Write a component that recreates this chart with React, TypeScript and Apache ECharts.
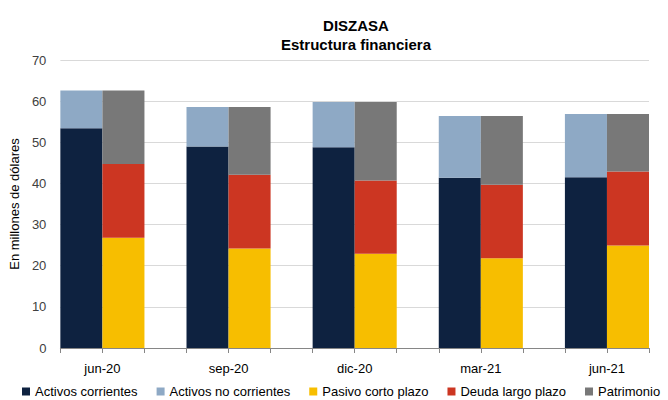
import React, { useEffect, useRef } from "react";
import * as echarts from "echarts";

const categories = ["jun-20", "sep-20", "dic-20", "mar-21", "jun-21"];
const activosCorrientes = [53.4, 49.0, 48.8, 41.4, 41.5];
const activosNoCorrientes = [9.2, 9.6, 11.0, 15.0, 15.4];
const pasivoCortoPlazo = [26.8, 24.2, 22.9, 21.8, 24.9];
const deudaLargoPlazo = [17.9, 17.9, 17.8, 17.9, 18.0];
const patrimonio = [17.9, 16.5, 19.1, 16.7, 14.0];
const yMin = 0;
const yMax = 70;
const yInterval = 10;

const FONT = "'Liberation Sans', Arial, sans-serif";

const slotCount = categories.length * 3 - 1;
const place = (values: number[], offset: number) => {
  const arr: (number | string)[] = Array(slotCount).fill("-");
  values.forEach((v, i) => {
    arr[3 * i + offset] = v;
  });
  return arr;
};
const boundaryLabels = (() => {
  const arr: string[] = Array(slotCount + 1).fill("");
  categories.forEach((c, i) => {
    arr[3 * i + 1] = c;
  });
  return arr;
})();

export default function App() {
  const ref = useRef<HTMLDivElement>(null);
  useEffect(() => {
    if (!ref.current) return;
    const chart = echarts.init(ref.current, undefined, { renderer: "svg" });
    const mk = (name: string, data: number[], offset: number, color: string) => ({
      name,
      type: "bar",
      stack: "total",
      barWidth: "100%",
      barGap: "0%",
      data: place(data, offset),
      itemStyle: { color },
      emphasis: { disabled: true },
    });
    chart.setOption({
      animation: false,
      backgroundColor: "#ffffff",
      textStyle: { fontFamily: FONT },
      title: {
        text: "DISZASA\nEstructura financiera",
        left: 351,
        top: 11,
        textAlign: "center",
        textStyle: {
          fontFamily: FONT,
          fontSize: 15,
          fontWeight: "bold",
          color: "#000",
          lineHeight: 19,
        },
      },
      legend: {
        top: 385,
        left: 22,
        width: 646,
        padding: 0,
        itemWidth: 8,
        itemHeight: 8,
        itemGap: 19,
        icon: "rect",
        textStyle: { fontFamily: FONT, fontSize: 13, color: "#000" },
        data: [
          "Activos corrientes",
          "Activos no corrientes",
          "Pasivo corto plazo",
          "Deuda largo plazo",
          "Patrimonio",
        ],
      },
      grid: { left: 58, right: 19, top: 60, bottom: 52 },
      xAxis: [
        {
          type: "category",
          data: Array(slotCount).fill(""),
          show: false,
          boundaryGap: true,
        },
        {
          type: "category",
          position: "bottom",
          boundaryGap: false,
          data: boundaryLabels,
          axisLine: { lineStyle: { color: "#868686" } },
          axisTick: { alignWithLabel: true, interval: 0, length: 5, lineStyle: { color: "#868686" } },
          axisLabel: { interval: 0, color: "#000", fontSize: 13, margin: 14, fontFamily: FONT },
          splitLine: { show: false },
        },
      ],
      yAxis: {
        type: "value",
        min: yMin,
        max: yMax,
        interval: yInterval,
        name: "En millones de dólares",
        nameLocation: "middle",
        nameGap: 32,
        nameRotate: 90,
        nameTextStyle: { fontFamily: FONT, fontSize: 13, color: "#000" },
        axisLine: { show: false },
        axisTick: { show: false },
        axisLabel: { color: "#404040", fontSize: 13, margin: 14, fontFamily: FONT },
        splitLine: { lineStyle: { color: "#d9d9d9" } },
      },
      series: [
        mk("Activos corrientes", activosCorrientes, 0, "#0e2240"),
        mk("Activos no corrientes", activosNoCorrientes, 0, "#8ea9c5"),
        mk("Pasivo corto plazo", pasivoCortoPlazo, 1, "#f7be00"),
        mk("Deuda largo plazo", deudaLargoPlazo, 1, "#cc3622"),
        mk("Patrimonio", patrimonio, 1, "#787878"),
      ],
    });
    return () => chart.dispose();
  }, []);
  return <div ref={ref} style={{ width: 668, height: 400, position: "absolute", left: 0, top: 0 }} />;
}
